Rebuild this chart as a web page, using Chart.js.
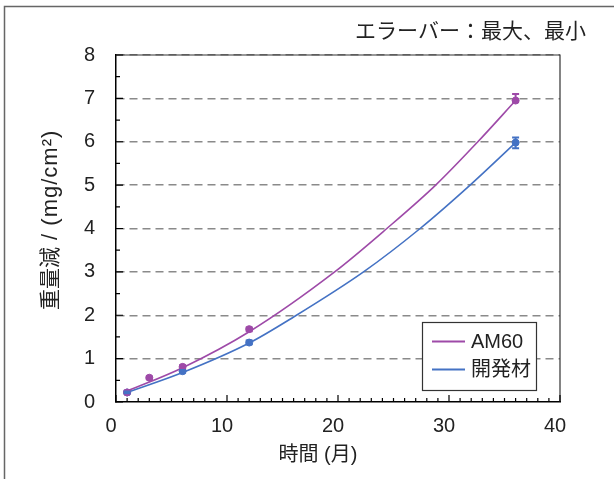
<!DOCTYPE html>
<html>
<head>
<meta charset="utf-8">
<script src="https://cdn.jsdelivr.net/npm/chart.js@4/dist/chart.umd.min.js"></script>
<style>
  html, body { margin: 0; padding: 0; background: #fff; }
  #wrap { width: 614px; height: 479px; position: relative; }
</style>
</head>
<body>
<div id="wrap"><canvas id="chart" width="614" height="479"></canvas></div>
<script>
const FONT = '"Liberation Sans", Arial, "Noto Sans CJK JP", sans-serif';

// measured points (months, mg/cm2)
const am60Months = [1, 3, 6, 12, 36];
const am60Loss = [0.22, 0.56, 0.81, 1.68, 6.95];
const am60Max = [0.26, 0.59, 0.85, 1.72, 7.1];
const am60Min = [0.2, 0.53, 0.76, 1.63, 6.92];

const devMonths = [1, 6, 12, 36];
const devLoss = [0.22, 0.71, 1.37, 5.98];
const devMax = [0.24, 0.74, 1.42, 6.1];
const devMin = [0.2, 0.68, 1.33, 5.85];

// trend curves
const am60TrendX = [1, 6, 12, 19.7, 24.4, 28.8, 32.6, 36];
const am60TrendY = [0.25, 0.79, 1.62, 3, 4, 5, 6, 6.95];
const devTrendX = [1, 6, 12, 16, 22.3, 27.4, 31.9, 36];
const devTrendY = [0.22, 0.68, 1.36, 1.96, 3, 4, 5, 5.98];

const seriesNames = ["AM60", "開発材"];
const xTitle = "時間 (月)";
const yTitleJa = "重量減";
const yTitleUnit = " / (mg/cm²)";
const note = "エラーバー：最大、最小";

const PURPLE = "#9E4AA8";
const BLUE = "#4472C4";

function pts(xs, ys) {
  return xs.map((x, i) => ({ x: x, y: ys[i] }));
}

const errorBars = [
  { xs: am60Months, lo: am60Min, hi: am60Max, color: PURPLE },
  { xs: devMonths, lo: devMin, hi: devMax, color: BLUE },
];

const decor = {
  id: "decor",
  beforeDraw(chart) {
    const c = chart.ctx;
    c.save();
    c.fillStyle = "#fff";
    c.fillRect(0, 0, chart.width, chart.height);
    c.strokeStyle = "#666";
    c.lineWidth = 1.5;
    c.strokeRect(4.5, 6.5, 700, 600);
    c.restore();
  },
  afterDatasetsDraw(chart) {
    const c = chart.ctx;
    const xs = chart.scales.x, ys = chart.scales.y;
    const a = chart.chartArea;
    c.save();

    // error bars
    errorBars.forEach((e) => {
      c.strokeStyle = e.color;
      c.lineWidth = 2;
      e.xs.forEach((m, i) => {
        const px = xs.getPixelForValue(m);
        const y1 = ys.getPixelForValue(e.lo[i]);
        const y2 = ys.getPixelForValue(e.hi[i]);
        c.beginPath();
        c.moveTo(px, y1); c.lineTo(px, y2);
        c.moveTo(px - 3.5, y1); c.lineTo(px + 3.5, y1);
        c.moveTo(px - 3.5, y2); c.lineTo(px + 3.5, y2);
        c.stroke();
      });
    });

    // top / right frame
    c.strokeStyle = "#333";
    c.lineWidth = 1.2;
    c.beginPath();
    c.moveTo(a.left, a.top); c.lineTo(a.right, a.top); c.lineTo(a.right, a.bottom);
    c.stroke();

    // inward ticks
    c.strokeStyle = "#000";
    c.lineWidth = 1.2;
    c.beginPath();
    for (let v = 0; v <= 40; v++) {
      const px = xs.getPixelForValue(v);
      const len = v % 10 === 0 ? 7 : 4;
      c.moveTo(px, a.bottom); c.lineTo(px, a.bottom - len);
    }
    for (let v = 0; v <= 16; v++) {
      const py = ys.getPixelForValue(v / 2);
      const len = v % 2 === 0 ? 7 : 4;
      c.moveTo(a.left, py); c.lineTo(a.left + len, py);
    }
    c.stroke();

    // legend
    c.fillStyle = "#fff";
    c.fillRect(422.5, 322.5, 114, 68);
    c.strokeStyle = "#333";
    c.lineWidth = 1.2;
    c.strokeRect(422.5, 322.5, 114, 68);
    [PURPLE, BLUE].forEach((col, i) => {
      const y = 341.5 + i * 28;
      c.strokeStyle = col;
      c.lineWidth = 2;
      c.beginPath(); c.moveTo(432, y); c.lineTo(465, y); c.stroke();
      c.fillStyle = "#222";
      c.font = "20px " + FONT;
      c.textBaseline = "middle";
      c.textAlign = "left";
      c.fillText(seriesNames[i], 471, y + 1);
    });

    // texts
    c.fillStyle = "#222";
    c.font = "21px " + FONT;
    c.textAlign = "right";
    c.textBaseline = "middle";
    c.fillText(note, 586, 32);
    c.font = "20px " + FONT;
    c.textAlign = "center";
    c.fillText(xTitle, 318, 455);

    // y title, bottom to top
    c.translate(51, 310);
    c.rotate(-Math.PI / 2);
    c.textAlign = "left";
    c.font = "21px " + FONT;
    c.fillText(yTitleJa, 0, 0);
    const w = c.measureText(yTitleJa).width;
    c.font = "22px " + FONT;
    c.letterSpacing = "1px";
    c.fillText(yTitleUnit, w, 0);
    c.restore();
  },
};

new Chart(document.getElementById("chart"), {
  type: "line",
  data: {
    datasets: [
      { label: seriesNames[0], data: pts(am60TrendX, am60TrendY), borderColor: PURPLE, borderWidth: 1.6,
        pointRadius: 0, cubicInterpolationMode: "monotone", fill: false },
      { label: seriesNames[1], data: pts(devTrendX, devTrendY), borderColor: BLUE, borderWidth: 1.6,
        pointRadius: 0, cubicInterpolationMode: "monotone", fill: false },
      { type: "scatter", label: seriesNames[0], data: pts(am60Months, am60Loss), backgroundColor: PURPLE,
        borderColor: PURPLE, pointRadius: 3.5 },
      { type: "scatter", label: seriesNames[1], data: pts(devMonths, devLoss), backgroundColor: BLUE,
        borderColor: BLUE, pointRadius: 3.5 },
    ],
  },
  options: {
    responsive: false,
    animation: false,
    layout: { padding: { left: 0, top: 55, right: 54, bottom: 0 } },
    plugins: { legend: { display: false }, tooltip: { enabled: false } },
    scales: {
      x: {
        type: "linear", min: 0, max: 40,
        afterFit: (s) => { s.height = 77; },
        ticks: { stepSize: 10, color: "#222", font: { size: 20, family: FONT }, padding: 12, labelOffset: -5, maxRotation: 0 },
        grid: { display: false, drawTicks: false },
        border: { display: true, color: "#000", width: 1.5 },
      },
      y: {
        type: "linear", min: 0, max: 8,
        afterFit: (s) => { s.width = 116; },
        ticks: { stepSize: 1, color: "#222", font: { size: 20, family: FONT }, padding: 21 },
        grid: {
          drawTicks: false,
          color: (ctx) => (ctx.tick && ctx.tick.value === 0 ? "rgba(0,0,0,0)" : "#8a8a8a"),
          lineWidth: 1.5,
        },
        border: { display: true, color: "#000", width: 1.5, dash: [8, 5] },
      },
    },
  },
  plugins: [decor],
});
</script>
</body>
</html>
